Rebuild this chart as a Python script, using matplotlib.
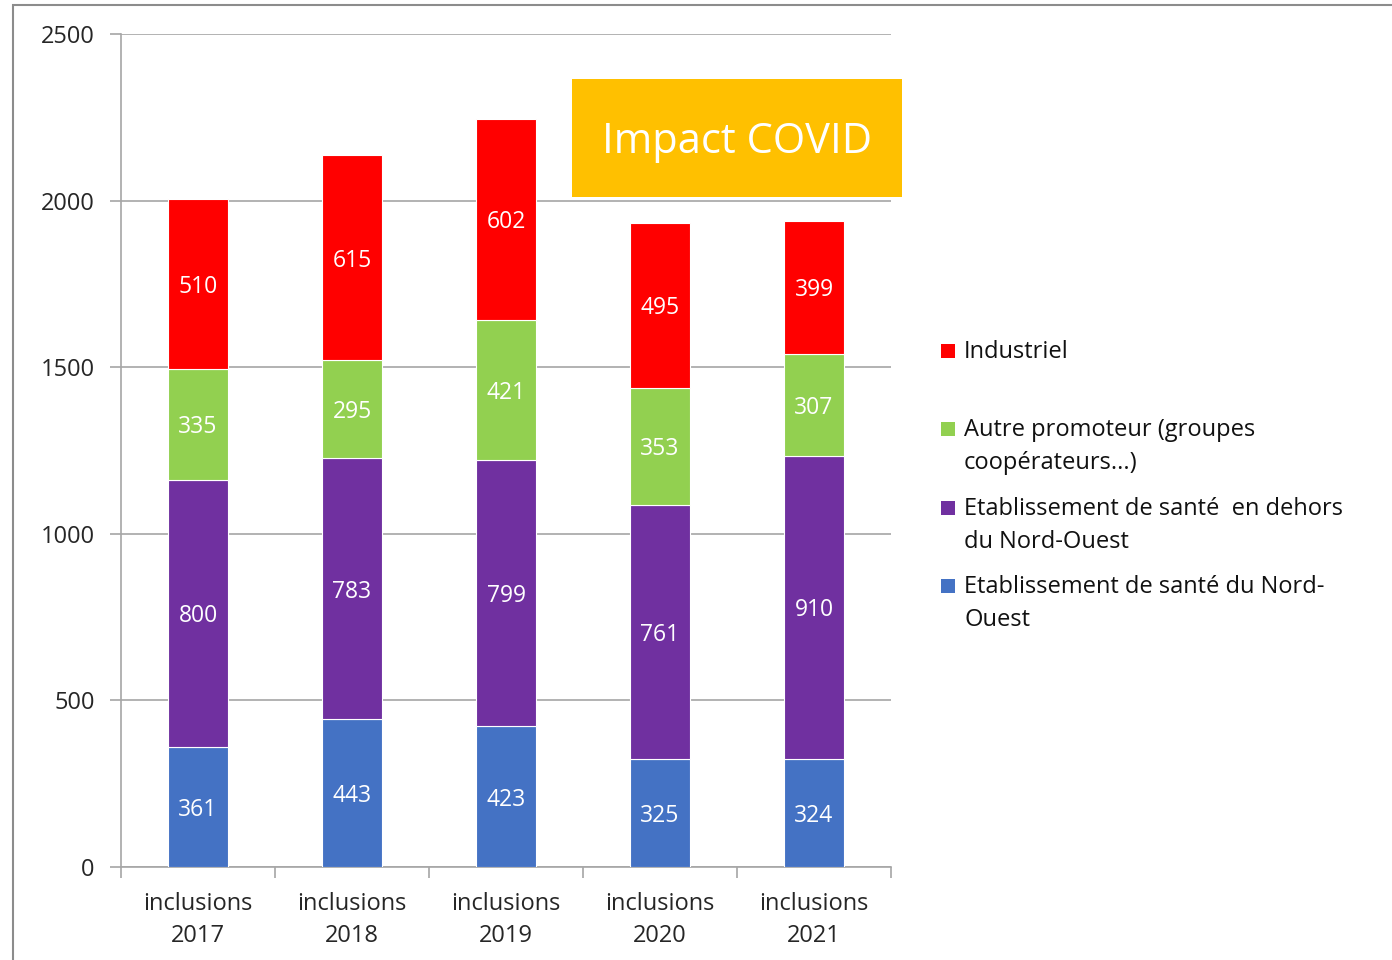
import matplotlib.pyplot as plt
from matplotlib.patches import Rectangle

plt.rcParams['font.family'] = ['Open Sans', 'DejaVu Sans']

annees = ['2017', '2018', '2019', '2020', '2021']
nord_ouest = [361, 443, 423, 325, 324]
hors_nord_ouest = [800, 783, 799, 761, 910]
autre_promoteur = [335, 295, 421, 353, 307]
industriel = [510, 615, 602, 495, 399]

series = [
    ('Etablissement de santé du Nord-\nOuest', nord_ouest, '#4472C4'),
    ('Etablissement de santé  en dehors\ndu Nord-Ouest', hors_nord_ouest, '#7030A0'),
    ('Autre promoteur (groupes\ncoopérateurs...)', autre_promoteur, '#92D050'),
    ('Industriel', industriel, '#FF0000'),
]

fig = plt.figure(figsize=(13.92, 9.6), dpi=100)
ax = fig.add_axes([121 / 1392, 93 / 960, 770 / 1392, 833 / 960])

x = list(range(len(annees)))
bas = [0] * len(annees)
for nom, valeurs, couleur in series:
    ax.bar(x, valeurs, 0.39, bottom=bas, color=couleur, edgecolor='white',
           linewidth=0.8, zorder=3)
    for xi, b, v in zip(x, bas, valeurs):
        ax.text(xi, b + v / 2, str(v), ha='center', va='center_baseline',
                color='white', fontsize=16.5, zorder=4)
    bas = [b + v for b, v in zip(bas, valeurs)]

ax.set_xlim(-0.5, 4.5)
ax.set_ylim(0, 2500)
ax.set_yticks(range(0, 2501, 500))
ax.tick_params(axis='y', length=8, color='#A6A6A6', width=1.2, pad=11,
               labelsize=17, labelcolor='#262626')
ax.set_xticks(x)
ax.set_xticklabels(['inclusions\n' + a for a in annees], fontsize=17,
                   color='#262626', linespacing=1.45)
ax.set_xticks([i - 0.5 for i in range(len(annees) + 1)], minor=True)
ax.tick_params(axis='x', which='major', length=0, pad=18)
ax.tick_params(axis='x', which='minor', length=8, color='#A6A6A6', width=1.2)
ax.grid(axis='y', color='#A6A6A6', linewidth=1.2, zorder=0)
for cote in ['top', 'right']:
    ax.spines[cote].set_visible(False)
for cote in ['left', 'bottom']:
    ax.spines[cote].set_color('#A6A6A6')
    ax.spines[cote].set_linewidth(1.2)

# encadré "Impact COVID"
fig.add_artist(Rectangle((572 / 1392, 1 - 197 / 960), 330 / 1392, 118 / 960,
                         transform=fig.transFigure, facecolor='#FFC000',
                         edgecolor='none', zorder=5))
fig.text(737 / 1392, 1 - 142 / 960, 'Impact COVID', ha='center', va='center',
         color='white', fontsize=30, zorder=6)

# légende à droite
for i, (nom, valeurs, couleur) in enumerate(reversed(series)):
    y = 1 - (351 + i * 78.3) / 960
    fig.add_artist(Rectangle((941 / 1392, y - 7 / 960), 14 / 1392, 14 / 960,
                             transform=fig.transFigure, facecolor=couleur,
                             edgecolor='none'))
    fig.text(964 / 1392, y + 11 / 960, nom, ha='left', va='top', fontsize=17,
             color='#111111', linespacing=1.51)

# cadre du graphique
fig.add_artist(Rectangle((13 / 1392, -0.1), 1.2, 1.1 - 5 / 960,
                         transform=fig.transFigure, fill=False,
                         edgecolor='#8C8C8C', linewidth=1.5))

fig.savefig('out.png', dpi=100)
